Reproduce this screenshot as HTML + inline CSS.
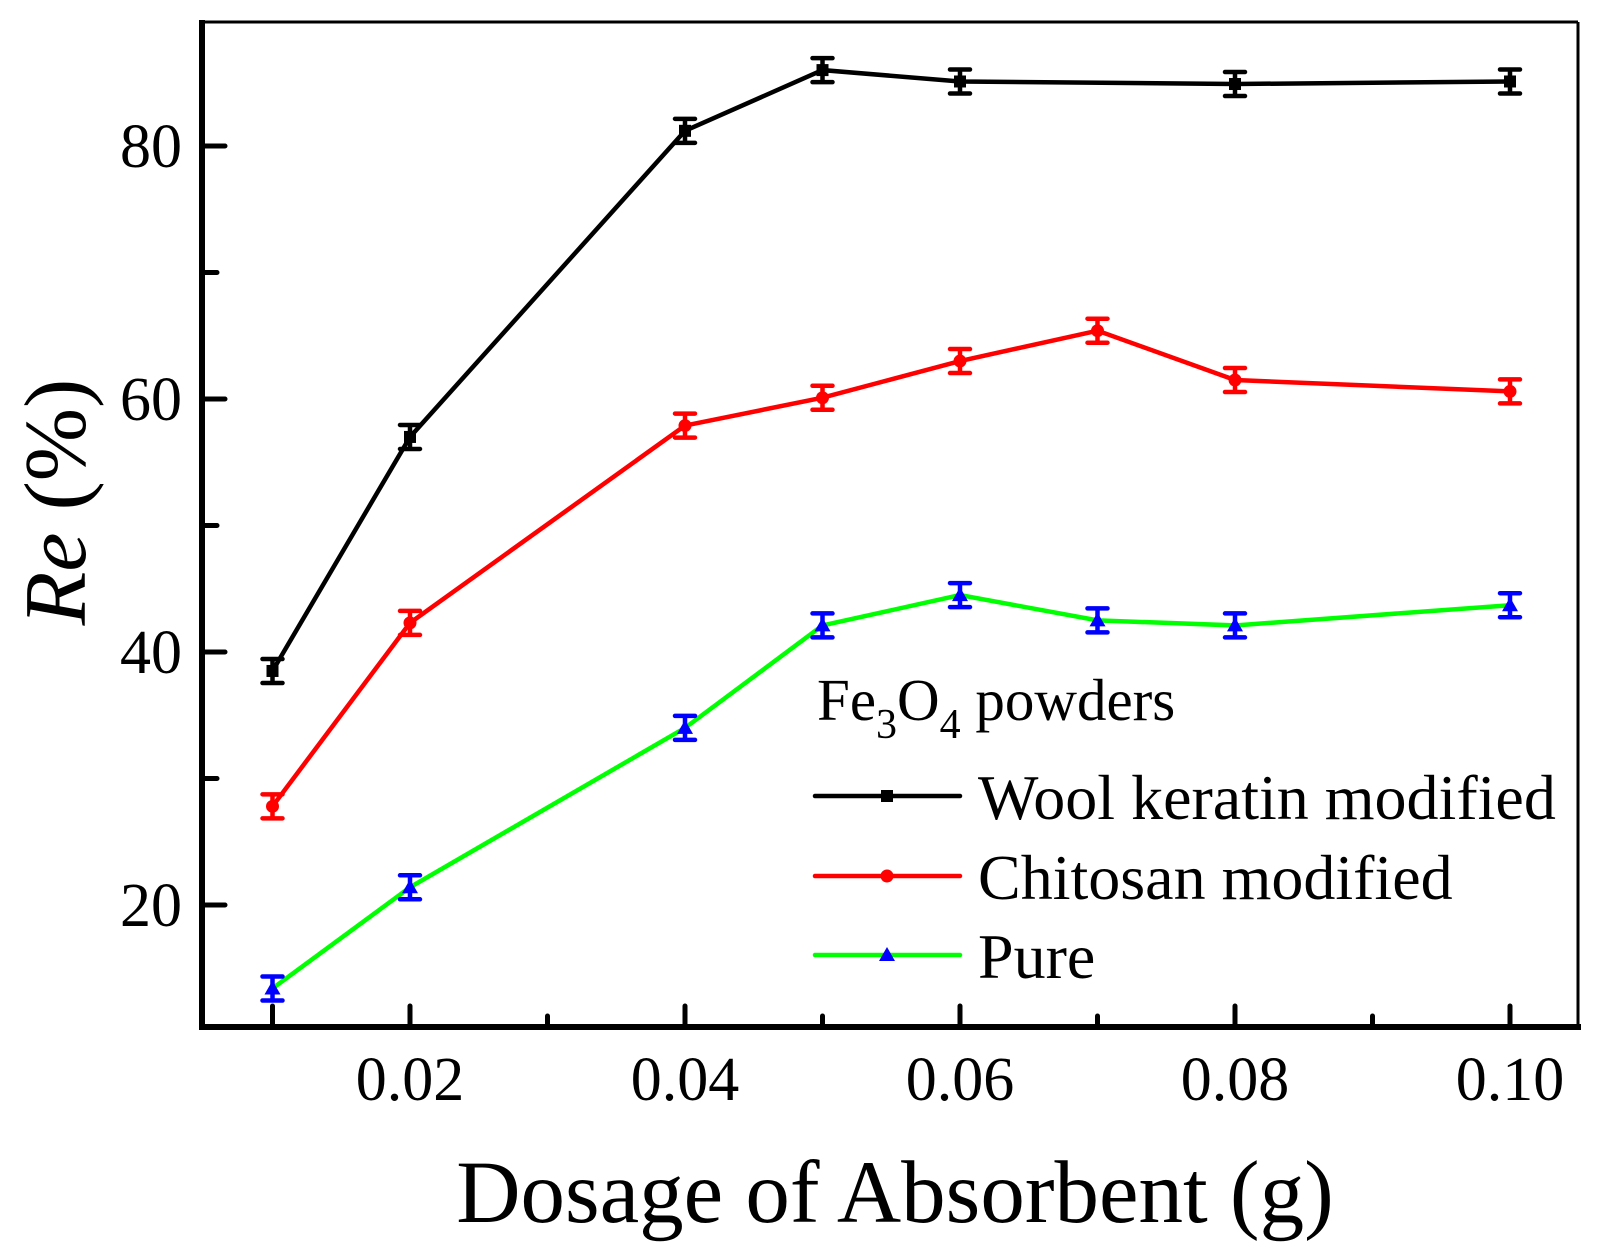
<!DOCTYPE html>
<html><head><meta charset="utf-8"><style>body{margin:0;background:#fff}svg{display:block}</style></head><body>
<svg width="1604" height="1248" xmlns="http://www.w3.org/2000/svg" font-family="'Liberation Serif', serif">
<g id="g"></g>
</svg>
<script>
const X=v=>272.5+(v-0.01)*13750, Y=v=>146+(80-v)*12.65;
let h='';
h+=`<line x1="1578" y1="22" x2="1578" y2="1027" stroke="#000" stroke-width="3"/>`;
h+=`<line x1="202" y1="22" x2="1578" y2="22" stroke="#000" stroke-width="3"/>`;
h+=`<line x1="202" y1="20" x2="202" y2="1030" stroke="#000" stroke-width="6"/>`;
h+=`<line x1="199" y1="1027" x2="1581" y2="1027" stroke="#000" stroke-width="6"/>`;
for(let v=20;v<=80;v+=10){const y=Y(v);h+=`<line x1="202" y1="${y}" x2="${v%20?217:225}" y2="${y}" stroke="#000" stroke-width="5" stroke-linecap="round"/>`;
 if(v%20==0)h+=`<text x="182" y="${y+21}" font-size="62" text-anchor="end">${v}</text>`;}
for(let i=1;i<=10;i++){const x=X(i/100);h+=`<line x1="${x}" y1="1027" x2="${x}" y2="${i%2&&i>1?1016:1006}" stroke="#000" stroke-width="5" stroke-linecap="round"/>`;
 if(i%2==0)h+=`<text x="${x}" y="1100" font-size="62" text-anchor="middle">${(i/100).toFixed(2)}</text>`;}
h+=`<text x="895" y="1222" font-size="89" text-anchor="middle">Dosage of Absorbent (g)</text>`;
h+=`<text transform="translate(85,502) rotate(-90)" font-size="88" text-anchor="middle"><tspan font-style="italic">Re</tspan> (%)</text>`;
const S=[
 {c:'#000',m:'#000',t:'s',x:[.01,.02,.04,.05,.06,.08,.10],y:[38.5,57,81.2,86,85.1,84.9,85.1]},
 {c:'#f00',m:'#f00',t:'c',x:[.01,.02,.04,.05,.06,.07,.08,.10],y:[27.8,42.3,57.9,60.1,63,65.4,61.5,60.6]},
 {c:'#0f0',m:'#00f',t:'t',x:[.01,.02,.04,.05,.06,.07,.08,.10],y:[13.4,21.4,34,42.1,44.5,42.5,42.1,43.7]}];
function mk(t,x,y,c){if(t=='s')return `<rect x="${x-6}" y="${y-6}" width="12" height="12" fill="${c}"/>`;
 if(t=='c')return `<circle cx="${x}" cy="${y}" r="6.5" fill="${c}"/>`;
 return `<polygon points="${x},${y-8} ${x-8},${y+6} ${x+8},${y+6}" fill="${c}"/>`;}
S.forEach(s=>{h+=`<polyline fill="none" stroke="${s.c}" stroke-width="4.5" points="${s.x.map((x,i)=>X(x)+','+Y(s.y[i])).join(' ')}"/>`;
 s.x.forEach((x,i)=>{const px=X(x),py=Y(s.y[i]),e=12;
  h+=`<path d="M${px},${py-e}V${py+e}M${px-10},${py-e}H${px+10}M${px-10},${py+e}H${px+10}" stroke="${s.m}" stroke-width="4.5" stroke-linecap="round"/>`;
  h+=mk(s.t,px,py,s.m);});});
h+=`<text x="817" y="720" font-size="59">Fe<tspan font-size="42" dy="18">3</tspan><tspan dy="-18">O</tspan><tspan font-size="42" dy="18">4</tspan><tspan dy="-18"> powders</tspan></text>`;
const L=[['#000','#000','s',796,'Wool keratin modified'],['#f00','#f00','c',876,'Chitosan modified'],['#0f0','#00f','t',955,'Pure']];
L.forEach(l=>{h+=`<line x1="815" y1="${l[3]}" x2="960" y2="${l[3]}" stroke="${l[0]}" stroke-width="4.5" stroke-linecap="round"/>`+mk(l[2],887,l[3],l[1])+`<text x="978" y="${l[3]+23}" font-size="64">${l[4]}</text>`;});
document.getElementById('g').innerHTML=h;
</script>
</body></html>
